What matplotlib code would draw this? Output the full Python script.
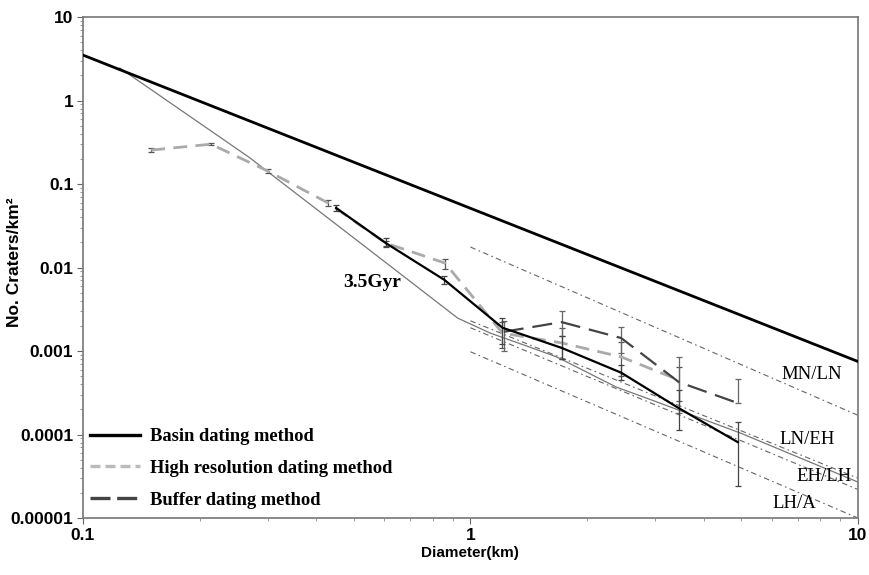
import matplotlib
matplotlib.use("Agg")
import matplotlib.pyplot as plt
import numpy as np
from matplotlib.lines import Line2D

# ---------------- data ----------------
# Production / saturation line (thick black)
sat_d = [0.1, 10.0]
sat_n = [3.5, 7.5e-4]

# 3.5 Gyr isochron (thin grey)
iso_d = [0.1245, 0.268, 0.394, 0.63, 0.927, 1.125, 1.374, 1.67, 2.38, 2.93, 4.98, 10.0]
iso_n = [2.45, 0.21, 0.053, 0.0099, 0.00248, 0.00164, 0.00118, 8.5e-4, 3.7e-4, 2.6e-4, 1.04e-4, 2.7e-5]

# Boundary isochrons (thin dashed)
bound_names = ["MN/LN", "LN/EH", "EH/LH", "LH/A"]
bound_d = [1.0, 10.0]
bound_n = [[0.0176, 1.7e-4],
           [0.0023, 3.0e-5],
           [0.0019, 2.2e-5],
           [0.00098, 1.0e-5]]
label_d = [6.37, 6.29, 6.96, 6.03]
label_n = [5.2e-4, 8.6e-5, 3.1e-5, 1.5e-5]

# Basin dating method
basin_d = [0.45, 0.605, 0.857, 1.21, 1.72, 2.45, 3.45, 4.9]
basin_n = [0.0517, 0.0196, 0.0071, 0.0019, 0.00109, 5.5e-4, 2.07e-4, 8.1e-5]
basin_lo = [0.048, 0.0175, 0.0064, 0.0012, 0.00080, 4.5e-4, 1.12e-4, 2.4e-5]
basin_hi = [0.056, 0.0225, 0.0079, 0.0025, 0.0015, 6.8e-4, 3.4e-4, 1.4e-4]

# High resolution dating method
hires_d = [0.15, 0.214, 0.30, 0.43, 0.605, 0.86, 1.21, 1.72, 2.45, 3.45]
hires_n = [0.255, 0.30, 0.143, 0.059, 0.0196, 0.0113, 0.00164, 0.00125, 8.5e-4, 4.5e-4]
hires_lo = [0.24, 0.29, 0.137, 0.055, 0.018, 0.0095, 0.0011, 0.0008, 5.0e-4, 2.5e-4]
hires_hi = [0.27, 0.31, 0.150, 0.064, 0.021, 0.0128, 0.0022, 0.0019, 1.3e-3, 6.5e-4]

# Buffer dating method
buf_d = [1.22, 1.72, 2.45, 3.45, 4.9]
buf_n = [0.0017, 0.00222, 0.00143, 4.25e-4, 2.38e-4]
buf_lo = [0.0010, 0.0015, 0.00095, 1.8e-4, 2.38e-4]
buf_hi = [0.0023, 0.0030, 0.00195, 8.5e-4, 4.6e-4]

legend_labels = ["Basin dating method", "High resolution dating method", "Buffer dating method"]

x_ticks = [0.1, 1, 10]
x_labels = ["0.1", "1", "10"]
y_ticks = [1e-5, 1e-4, 1e-3, 1e-2, 1e-1, 1, 10]
y_labels = ["0.00001", "0.0001", "0.001", "0.01", "0.1", "1", "10"]

# ---------------- plot ----------------
fig = plt.figure(figsize=(8.7, 5.75), dpi=100)
ax = fig.add_axes([0.0954, 0.0991, 0.8906, 0.8713])
ax.set_xscale("log")
ax.set_yscale("log")
ax.set_xlim(0.1, 10)
ax.set_ylim(1e-5, 10)

ax.plot(sat_d, sat_n, color="black", lw=2.0, zorder=3)
ax.plot(iso_d, iso_n, color="#777777", lw=0.9, zorder=2)

for bn in bound_n:
    ax.plot(bound_d, bn, color="#666666", lw=0.8, dashes=(5, 3, 1.5, 3), zorder=2)

def yerr(n, lo, hi):
    n = np.array(n); lo = np.array(lo); hi = np.array(hi)
    return [n - lo, hi - n]

ax.errorbar(hires_d, hires_n, yerr=yerr(hires_n, hires_lo, hires_hi), color="#aaaaaa",
            lw=2.0, dashes=(5, 3), ecolor="#555555", elinewidth=0.9, capsize=2.5,
            capthick=0.9, zorder=4)
ax.errorbar(buf_d, buf_n, yerr=yerr(buf_n, buf_lo, buf_hi), color="#444444",
            lw=1.6, dashes=(9, 4), ecolor="#666666", elinewidth=0.9, capsize=2.5,
            capthick=0.9, zorder=5)
ax.errorbar(basin_d, basin_n, yerr=yerr(basin_n, basin_lo, basin_hi), color="black",
            lw=1.6, ecolor="#444444", elinewidth=0.9, capsize=2.5, capthick=0.9,
            zorder=6)

# labels for isochrons
serif = "Liberation Serif"
ax.text(0.469, 0.0067, "3.5Gyr", fontsize=14, family=serif, fontweight="bold", va="center")
for name, d, n in zip(bound_names, label_d, label_n):
    ax.text(d, n, name, fontsize=13.5, family=serif, va="center", ha="left")

ax.set_xticks(x_ticks)
ax.set_xticklabels(x_labels)
ax.set_yticks(y_ticks)
ax.set_yticklabels(y_labels)
for lab in ax.get_xticklabels() + ax.get_yticklabels():
    lab.set_fontweight("bold")
    lab.set_fontsize(12.5)
    lab.set_family("Liberation Sans")
ax.tick_params(which="major", direction="out", length=4, color="#666666", pad=3)
ax.tick_params(which="minor", direction="out", length=2.5, color="#888888")
ax.yaxis.set_minor_locator(matplotlib.ticker.LogLocator(base=10, subs=np.arange(2, 10), numticks=20))
ax.yaxis.set_minor_formatter(matplotlib.ticker.NullFormatter())
ax.xaxis.set_minor_formatter(matplotlib.ticker.NullFormatter())
for sp in ax.spines.values():
    sp.set_color("#777777")
    sp.set_linewidth(1.2)

ax.set_xlabel("Diameter(km)", fontsize=11, fontweight="bold", family="Liberation Sans", labelpad=2)
ax.set_ylabel("No. Craters/km\u00b2", fontsize=12.5, fontweight="bold", family="Liberation Sans")
ax.yaxis.set_label_coords(-0.079, 0.511)

leg_handles = [Line2D([], [], color="black", lw=2.4),
               Line2D([], [], color="#bbbbbb", lw=2.4, dashes=(3, 1.5)),
               Line2D([], [], color="#444444", lw=2.4, dashes=(6, 2))]
leg = ax.legend(leg_handles, legend_labels, loc="lower left",
                bbox_to_anchor=(-0.012, -0.015), frameon=False, handlelength=2.7,
                prop={"family": serif, "weight": "bold", "size": 13.3},
                labelspacing=0.81, handletextpad=0.55)

fig.savefig("out.png", dpi=100, facecolor="white")
